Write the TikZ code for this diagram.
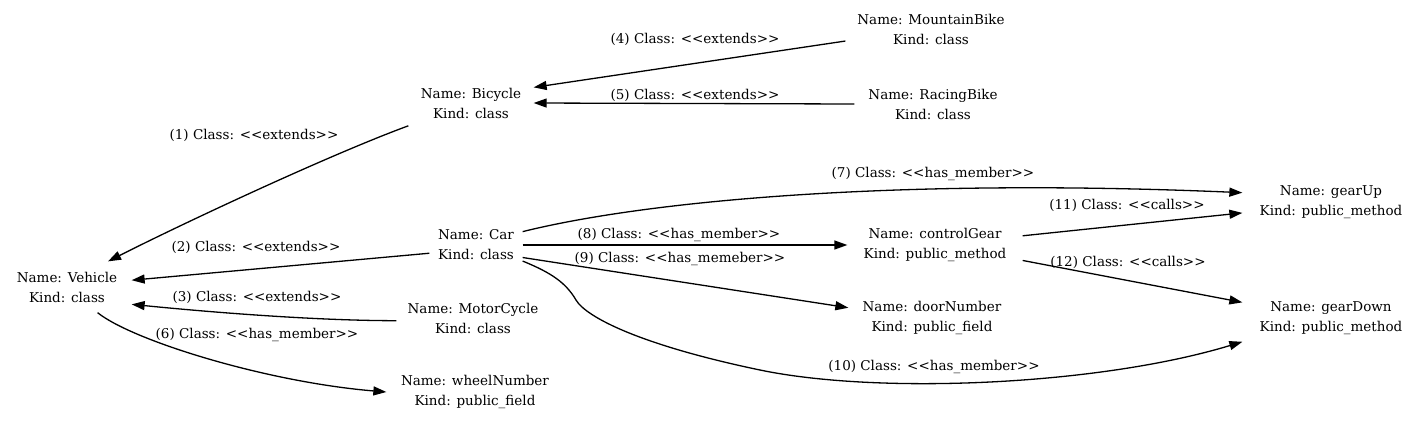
\documentclass[tikz,border=0pt]{standalone}
\usepackage{fontspec}
\setmainfont{DejaVu Serif}
\usetikzlibrary{arrows.meta}
\newcommand{\stL}{<\kern0pt<}
\newcommand{\stR}{>\kern0pt>}
\tikzset{
  every picture/.style={line width=1.3pt},
  cls/.style={align=center, inner sep=0pt, minimum height=50pt, minimum width=#1, font=\fontsize{13.5}{20}\selectfont},
  lbl/.style={inner sep=0pt, font=\fontsize{13.5}{20}\selectfont},
  arrow/.style={-{Triangle[length=13pt, width=9pt]}},
}

\begin{document}
\begin{tikzpicture}[x=1pt,y=-1pt]
  \useasboundingbox (0,0) rectangle (1426,424);
  % classes
  \node[cls=128pt] (vehicle) at (67,287) {Name: Vehicle\\Kind: class};
  \node[cls=124pt] (bicycle) at (471,103) {Name: Bicycle\\Kind: class};
  \node[cls=170pt] (mbike) at (931,29) {Name: MountainBike\\Kind: class};
  \node[cls=156pt] (rbike) at (933,104) {Name: RacingBike\\Kind: class};
  \node[cls=92pt] (car) at (476,245) {Name: Car\\Kind: class};
  \node[cls=152pt] (moto) at (473,318) {Name: MotorCycle\\Kind: class};
  % members
  \node[cls=176pt] (wheel) at (475,392) {Name: wheelNumber\\Kind: public\_field};
  \node[cls=174pt] (cgear) at (935,245) {Name: controlGear\\Kind: public\_method};
  \node[cls=166pt] (door) at (932,318) {Name: doorNumber\\Kind: public\_field};
  \node[cls=176pt] (gearup) at (1331,202) {Name: gearUp\\Kind: public\_method};
  \node[cls=176pt] (geardown) at (1331,318) {Name: gearDown\\Kind: public\_method};

  % edges
  \draw[arrow] (bicycle.200) .. controls +(-79,29) and +(73,-37) .. (vehicle.32);
  \draw[arrow] (car.190) -- (vehicle.6);
  \draw[arrow] (moto.182) .. controls +(-80,0) and +(80,8) .. (vehicle.-15);
  \draw[arrow] (mbike.188) -- (bicycle.14);
  \draw[arrow] (rbike.west) -- (bicycle.east);
  \draw[arrow] (vehicle.-40) .. controls +(35,28) and +(-120,-10) .. (wheel.west);
  \draw[arrow] (car.16) .. controls (650,200) and (900,178) .. (gearup.174);
  \draw[arrow] (car.east) -- (cgear.west);
  \draw[arrow] (car.-15) -- (door.173);
  \draw[arrow] (car.-19) .. controls (552,273) and (566,283) .. (576,300)
    .. controls (586,317) and (640,345) .. (760,370)
    .. controls (880,395) and (1100,385) .. (geardown.195);
  \draw[arrow] (cgear.6) -- (gearup.187);
  \draw[arrow] (cgear.-10) -- (geardown.170);

  % edge labels
  \node[lbl] (l1) at (254,135) {(1) Class: \stL extends\stR};
  \node[lbl] (l2) at (256,247) {(2) Class: \stL extends\stR};
  \node[lbl] (l3) at (257,297) {(3) Class: \stL extends\stR};
  \node[lbl] (l4) at (695,39) {(4) Class: \stL extends\stR};
  \node[lbl] (l5) at (695,95) {(5) Class: \stL extends\stR};
  \node[lbl] (l6) at (257,335) {(6) Class: \stL has\_member\stR};
  \node[lbl] (l7) at (933,174) {(7) Class: \stL has\_member\stR};
  \node[lbl] (l8) at (679,235) {(8) Class: \stL has\_member\stR};
  \node[lbl] (l9) at (680,259) {(9) Class: \stL has\_memeber\stR};
  \node[lbl] (l10) at (934,367) {(10) Class: \stL has\_member\stR};
  \node[lbl] (l11) at (1127,205) {(11) Class: \stL calls\stR};
  \node[lbl] (l12) at (1128,262) {(12) Class: \stL calls\stR};
\end{tikzpicture}
\end{document}
